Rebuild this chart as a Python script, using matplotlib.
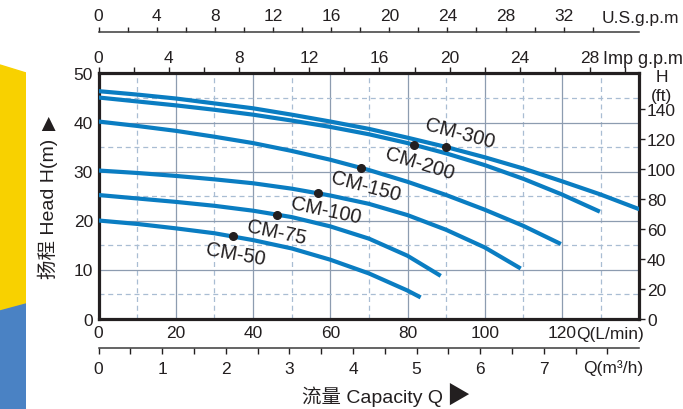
import matplotlib.pyplot as plt
import numpy as np
from matplotlib.patches import Polygon, FancyBboxPatch

plt.rcParams['font.family'] = ['Liberation Sans', 'Noto Sans CJK SC', 'DejaVu Sans']

# flow Q in L/min, head H in m
q_300 = [0, 10, 20, 30, 40, 50, 60, 70, 80, 90, 100, 110, 120, 130, 140]
h_300 = [46.4, 45.7, 44.9, 43.9, 42.9, 41.6, 40.2, 38.7, 36.9, 35.0, 32.9, 30.6, 28.0, 25.3, 22.3]
q_200 = [0, 10, 20, 30, 40, 50, 60, 70, 80, 90, 100, 110, 120, 129.8]
h_200 = [45.1, 44.3, 43.5, 42.6, 41.6, 40.4, 39.1, 37.6, 35.8, 33.7, 31.3, 28.5, 25.3, 21.8]
q_150 = [0, 10, 20, 30, 40, 50, 60, 70, 80, 90, 100, 110, 119.7]
h_150 = [40.2, 39.3, 38.3, 37.1, 35.8, 34.2, 32.4, 30.3, 27.9, 25.2, 22.2, 18.9, 15.2]
q_100 = [0, 10, 20, 30, 40, 50, 60, 70, 80, 90, 100, 109.3]
h_100 = [30.2, 29.7, 29.1, 28.4, 27.6, 26.5, 25.1, 23.4, 21.1, 18.1, 14.5, 10.2]
q_75 = [0, 10, 20, 30, 40, 50, 60, 70, 80, 88.6]
h_75 = [25.2, 24.5, 23.8, 23.0, 22.0, 20.7, 18.8, 16.3, 12.8, 8.7]
q_50 = [0, 10, 20, 30, 40, 50, 60, 70, 80, 83.4]
h_50 = [20.0, 19.3, 18.4, 17.4, 16.0, 14.3, 12.0, 9.2, 5.7, 4.3]

models = ['CM-300', 'CM-200', 'CM-150', 'CM-100', 'CM-75', 'CM-50']
curves = [(q_300, h_300), (q_200, h_200), (q_150, h_150),
          (q_100, h_100), (q_75, h_75), (q_50, h_50)]
dot_q = [90, 81.7, 67.9, 56.7, 46.1, 34.9]
dot_h = [35.0, 35.4, 30.7, 25.6, 21.2, 16.8]
label_xy = [(93.5, 37.9), (83.2, 31.8), (69.3, 27.1), (58.8, 22.2), (46.2, 17.6), (35.4, 13.2)]
label_rot = [-15, -17, -15, -12, -12, -10]

W, H = 683, 410


def fx(px):
    return px / W


def fy(py):
    return 1 - py / H


fig = plt.figure(figsize=(6.83, 4.10), dpi=100)

# left decoration strip
fig.patches.append(Polygon([(fx(0), fy(66)), (fx(26), fy(74)), (fx(26), fy(305)), (fx(0), fy(312))],
                           closed=True, transform=fig.transFigure, color='#f8d100', zorder=-3))
fig.patches.append(Polygon([(fx(0), fy(312)), (fx(26), fy(305)), (fx(26), fy(410)), (fx(0), fy(410))],
                           closed=True, transform=fig.transFigure, color='#4a82c4', zorder=-3))
fig.patches.append(FancyBboxPatch((fx(26), fy(440)), fx(700), fy(-40) - fy(440),
                                  boxstyle='round,pad=0,rounding_size=0.03',
                                  transform=fig.transFigure, facecolor='white',
                                  edgecolor='none', zorder=-2))

x0, x1 = fx(98.5), fx(639.3)
ax = fig.add_axes([x0, fy(319.5), x1 - x0, fy(74.5) - fy(319.5)])
ax.set_facecolor('white')
ax.set_xlim(0, 140)
ax.set_ylim(0, 50)

ax.set_xticks(np.arange(0, 121, 20))
ax.set_xticks(np.arange(10, 131, 20), minor=True)
ax.set_yticks(np.arange(0, 51, 10))
ax.set_yticks(np.arange(5, 46, 10), minor=True)
ax.grid(which='major', color='#8d9cb0', lw=0.9, ls='-')
ax.grid(which='minor', color='#a9bdd3', lw=0.9, ls=(0, (4, 3)))
ax.set_axisbelow(True)
ax.tick_params(which='both', length=0, labelsize=12.5, colors='#231f20')
ax.tick_params(axis='x', pad=5)
ax.tick_params(axis='y', pad=4)
for s in ax.spines.values():
    s.set_linewidth(2.3)
    s.set_color('#231f20')

for (q, h) in curves:
    ax.plot(q, h, color='#0a7dc2', lw=3.0, solid_capstyle='butt', solid_joinstyle='round', zorder=3)
ax.plot(dot_q, dot_h, 'o', color='#231f20', ms=5.5, zorder=4)
for name, (lx, ly), rot in zip(models, label_xy, label_rot):
    ax.text(lx, ly, name, fontsize=14.5, rotation=rot, rotation_mode='anchor',
            ha='center', va='center', color='#231f20', zorder=5)

# right axis in feet
ft = ax.secondary_yaxis('right', functions=(lambda m: m * 3.2808, lambda f: f / 3.2808))
ft.set_ticks(np.arange(0, 141, 20))
ft.tick_params(length=4.5, width=1, direction='out', labelsize=12.5, pad=1, colors='#231f20')
ft.spines['right'].set_visible(False)
fig.text(fx(662), fy(78), 'H', fontsize=12.5, ha='center', va='center', color='#231f20')
fig.text(fx(661), fy(97), '(ft)', fontsize=12.5, ha='center', va='center', color='#231f20')

# top axis in Imp gpm
imp = ax.secondary_xaxis('top', functions=(lambda q: q / 4.546, lambda g: g * 4.546))
imp.set_xticks(np.arange(0, 29, 4))
imp.set_xticks(np.arange(2, 31, 4), minor=True)
imp.tick_params(which='both', length=4, width=1, direction='out', labelsize=12.5, pad=2, colors='#231f20')
imp.spines['top'].set_visible(False)
fig.text(fx(603), fy(60), 'Imp g.p.m', fontsize=13, ha='left', va='center', color='#231f20')

# US gpm scale line
us = fig.add_axes([x0, fy(33) - 0.001, x1 - x0, 0.001])
us.set_xlim(0, 37.2)
us.set_yticks([])
us.xaxis.tick_top()
us.set_xticks(np.arange(0, 33, 4))
us.set_xticks(np.arange(2, 37, 4), minor=True)
us.tick_params(which='both', length=3.5, width=1, direction='out', labelsize=12.5, pad=3, colors='#231f20')
for k in ['bottom', 'left', 'right']:
    us.spines[k].set_visible(False)
us.spines['top'].set_linewidth(1.1)
us.spines['top'].set_color('#3a3a3a')
us.patch.set_visible(False)
fig.text(fx(602), fy(18), 'U.S.g.p.m', fontsize=12.5, ha='left', va='center', color='#231f20')

# m3/h scale line
m3 = fig.add_axes([x0, fy(349.3), x1 - x0, 0.001])
m3.set_xlim(0, 8.50)
m3.set_yticks([])
m3.set_xticks(np.arange(0, 8, 1))
m3.set_xticks(np.arange(0.5, 8.1, 0.5), minor=True)
m3.tick_params(which='both', length=4.5, width=1, direction='out', labelsize=12.5, pad=5, colors='#231f20')
for k in ['top', 'left', 'right']:
    m3.spines[k].set_visible(False)
m3.spines['bottom'].set_linewidth(1.1)
m3.spines['bottom'].set_color('#3a3a3a')
m3.patch.set_visible(False)

fig.text(fx(576), fy(335), 'Q(L/min)', fontsize=12.5, ha='left', va='center', color='#231f20')
fig.text(fx(583), fy(368), 'Q(m³/h)', fontsize=12.5, ha='left', va='center', color='#231f20')

fig.text(fx(48), fy(209), '扬程 Head H(m)', fontsize=14, rotation=90, ha='center', va='center', color='#231f20')
fig.text(fx(48), fy(125), '▲', fontsize=17, ha='center', va='center', color='#231f20')
fig.text(fx(372), fy(397), '流量 Capacity Q', fontsize=14, ha='center', va='center', color='#231f20')
fig.text(fx(458), fy(397), '▶', fontsize=17, ha='center', va='center', color='#231f20')

fig.savefig('out.png', dpi=100)
